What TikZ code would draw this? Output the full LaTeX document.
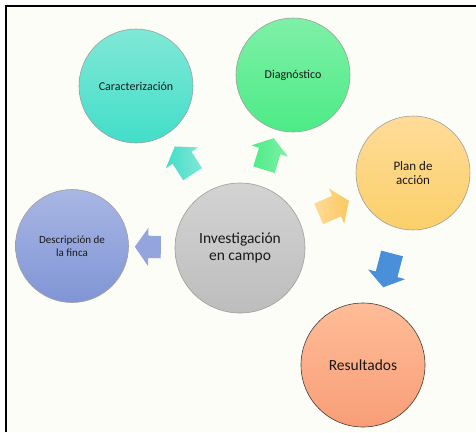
\documentclass[tikz,border=0pt]{standalone}
\usepackage{fontspec}
\setmainfont{Carlito}
\usetikzlibrary{positioning,shapes.arrows}

\definecolor{bgcream}{HTML}{FDFDF8}
\definecolor{cartop}{HTML}{80E8D6}
\definecolor{carbot}{HTML}{42DEC9}
\definecolor{diatop}{HTML}{7EF0A6}
\definecolor{diabot}{HTML}{4DEB87}
\definecolor{plantop}{HTML}{FFDB98}
\definecolor{planbot}{HTML}{FBD06A}
\definecolor{desctop}{HTML}{A8B6E3}
\definecolor{descbot}{HTML}{8095D6}
\definecolor{invtop}{HTML}{D3D3D3}
\definecolor{invbot}{HTML}{BDBDBD}
\definecolor{restop}{HTML}{FFBC98}
\definecolor{resbot}{HTML}{F89E77}
\definecolor{resarrow}{HTML}{4A8FDA}

\begin{document}
\begin{tikzpicture}[x=1pt, y=1pt, on grid,
	phase/.style={circle, draw=gray!75, line width=0.6pt, minimum size=114pt, inner sep=0pt,
		align=center, text=black!90, font=\fontsize{12}{14}\selectfont},
	blockarrow/.style={single arrow, draw=none, inner xsep=0pt, inner ysep=11pt, minimum height=33pt,
		single arrow head extend=8pt, single arrow tip angle=110, sloped, allow upside down}]
	\useasboundingbox (0,0) rectangle (476,-432);
	\fill[white] (0,0) rectangle (476,-432);
	\fill[bgcream] (5,-5) rectangle (476,-432);
	\draw[line width=2pt] (5.5,-432) -- (5.5,-5.5) -- (476,-5.5);

	\node[phase, minimum size=130pt, top color=invtop, bottom color=invbot,
		font=\fontsize{15.5}{17}\selectfont](inv) at (240,-248) {Investigación\\en campo};
	\node[phase, top color=cartop, bottom color=carbot](car)[above left=162pt and 104pt of inv]{Caracterización};
	\node[phase, top color=diatop, bottom color=diabot](dia)[above right=173pt and 53pt of inv]{Diagnóstico};
	\node[phase, top color=plantop, bottom color=planbot,
		font=\fontsize{13}{13.7}\selectfont](plan)[above right=75pt and 173pt of inv]{Plan de\\acción};
	\node[phase, minimum size=113pt, top color=desctop, bottom color=descbot,
		font=\fontsize{11}{12.7}\selectfont](desc)[above left=2pt and 168pt of inv]{Descripción de\\la finca};
	\node[phase, minimum size=124pt, draw=black!75, top color=restop, bottom color=resbot,
		font=\fontsize{15.5}{17}\selectfont](res)[below left=192pt and 50pt of plan]{Resultados};

	\path
	(inv) edge[draw=none] node[blockarrow, left color=carbot, right color=cartop] {} (car)
		edge[draw=none] node[blockarrow, left color=diabot, right color=diatop] {} (dia)
		edge[draw=none] node[blockarrow, left color=plantop, right color=planbot!90!orange] {} (plan)
		edge[draw=none] node[blockarrow, minimum height=26pt, fill=descbot!85!white] {} (desc)
	(plan) edge[draw=none] node[blockarrow, minimum height=35pt, fill=resarrow] {} (res);
\end{tikzpicture}
\end{document}
